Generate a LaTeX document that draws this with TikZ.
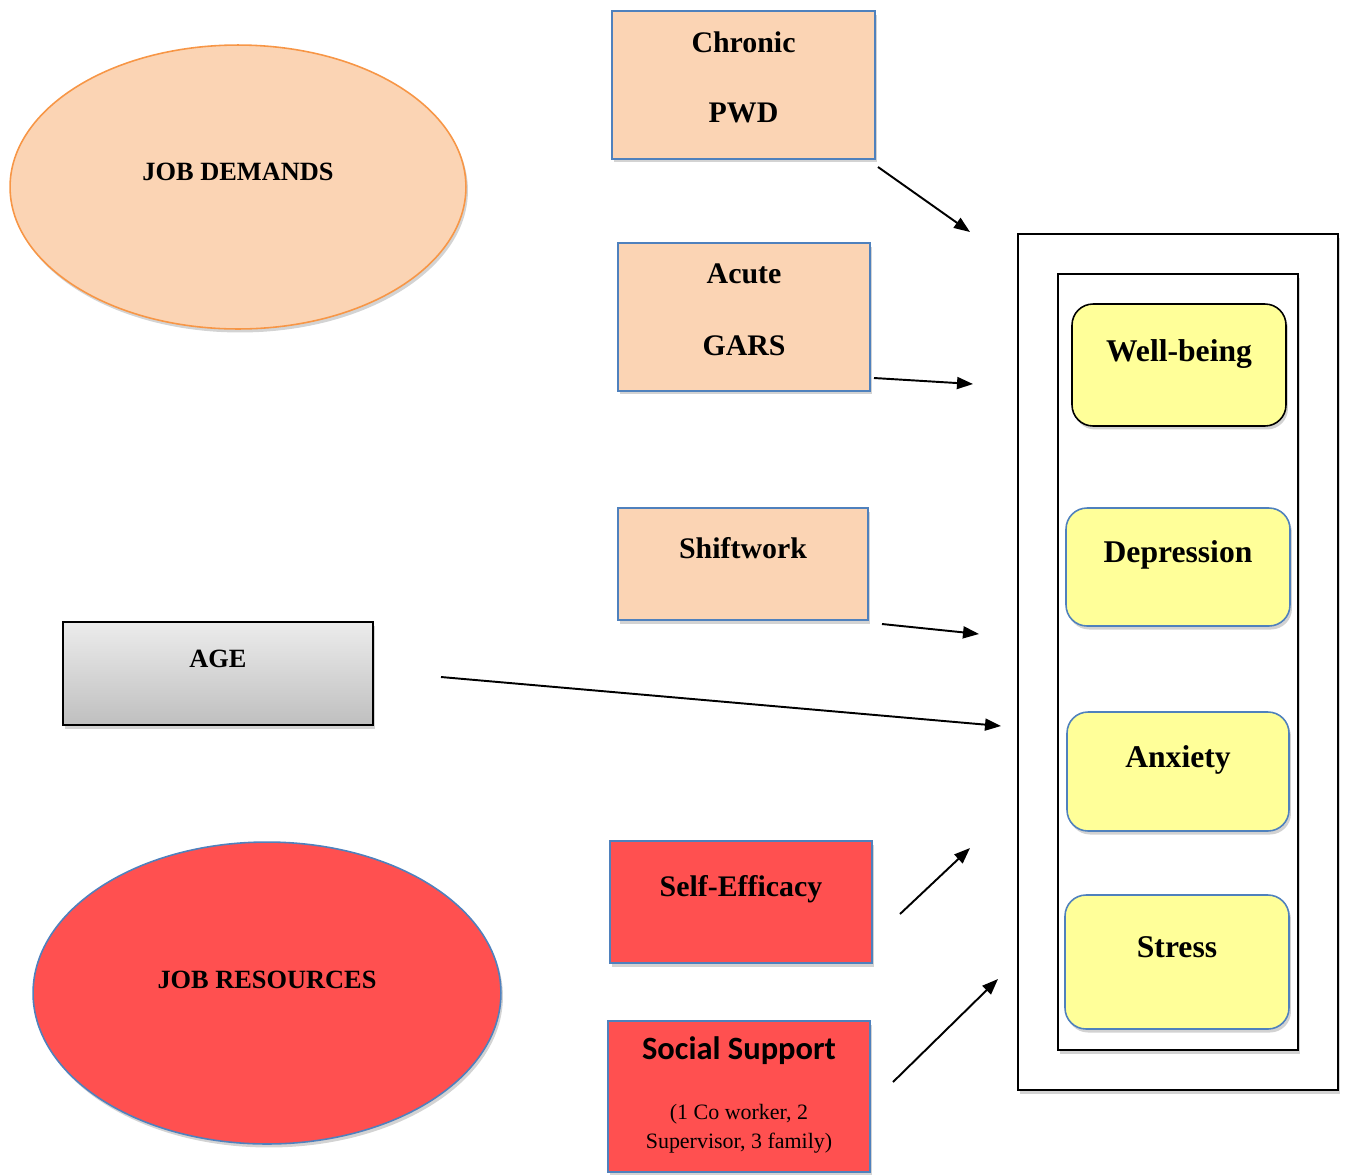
\documentclass[tikz,border=0pt]{standalone}
\usepackage{fontspec}
\setmainfont{Liberation Serif}
\newfontfamily\calfont{Carlito}
\usetikzlibrary{arrows.meta}
\usetikzlibrary{shadows}
\usetikzlibrary{shapes.geometric}

\definecolor{peach}{HTML}{FBD4B4}
\definecolor{orangeline}{HTML}{F79646}
\definecolor{blueline}{HTML}{4F81BD}
\definecolor{redfill}{HTML}{FF5050}
\definecolor{yellowfill}{HTML}{FFFF99}

\tikzset{
    shade/.style={drop shadow={opacity=0.35,shadow xshift=0.04cm,shadow yshift=-0.07cm}},
    demandbox/.style={rectangle,draw=blueline,fill=peach,line width=0.9pt,shade},
    resourcebox/.style={rectangle,draw=blueline,fill=redfill,line width=0.9pt,shade},
    outcomebox/.style={rectangle,rounded corners=0.42cm,draw=blueline,fill=yellowfill,line width=0.9pt,shade},
    title/.style={anchor=base,font=\fontsize{17}{20}\selectfont\bfseries},
    bigtitle/.style={anchor=base,font=\fontsize{18}{21}\selectfont\bfseries},
    ovaltitle/.style={anchor=base,font=\fontsize{15}{18}\selectfont\bfseries},
    effect/.style={-{Triangle[length=0.32cm,width=0.24cm]},line width=1.1pt}
}

\begin{document}
\begin{tikzpicture}[x=0.02cm,y=-0.02cm]
    \useasboundingbox (0,0) rectangle (1345,1174);

    % job demands
    \node[ellipse,draw=orangeline,fill=peach,line width=0.9pt,minimum width=9.12cm,minimum height=5.68cm,shade] (demands) at (238,187) {};
    \node[ovaltitle] (demandstext) at (238,180) {JOB DEMANDS};

    \node[demandbox,minimum width=5.26cm,minimum height=2.96cm] (chronic) at (743.5,85) {};
    \node[title] (chronictext) at (743.5,52) {Chronic};
    \node[title] (pwdtext) at (743.5,122) {PWD};

    \node[demandbox,minimum width=5.04cm,minimum height=2.96cm] (acute) at (744,317) {};
    \node[title] (acutetext) at (744,283) {Acute};
    \node[title] (garstext) at (744,355) {GARS};

    \node[demandbox,minimum width=5.0cm,minimum height=2.24cm] (shift) at (743,564) {};
    \node[title] (shifttext) at (743,558) {Shiftwork};

    % age
    \node[rectangle,draw=black,line width=0.9pt,top color=gray!15,bottom color=gray!50,minimum width=6.2cm,minimum height=2.06cm,shade] (age) at (218,673.5) {};
    \node[ovaltitle] (agetext) at (218,667) {AGE};

    % job resources
    \node[ellipse,draw=blueline,fill=redfill,line width=0.9pt,minimum width=9.36cm,minimum height=6.04cm,shade] (resources) at (267,993) {};
    \node[ovaltitle] (resourcestext) at (267,988) {JOB RESOURCES};

    \node[resourcebox,minimum width=5.24cm,minimum height=2.44cm] (efficacy) at (741,902) {};
    \node[title] (efficacytext) at (741,896) {Self-Efficacy};

    \node[resourcebox,minimum width=5.24cm,minimum height=3.02cm] (support) at (739,1096.5) {};
    \node[anchor=base,font=\calfont\fontsize{18.5}{22}\selectfont\bfseries] (supporttext) at (739,1059) {Social Support};
    \node[anchor=base,font=\fontsize{12.5}{15}\selectfont] (supportone) at (739,1119) {(1 Co worker, 2};
    \node[anchor=base,font=\fontsize{12.5}{15}\selectfont] (supporttwo) at (739,1148) {Supervisor, 3 family)};

    % outcomes
    \draw[line width=1pt,shade,fill=white] (1018,234) rectangle (1338,1090);
    \draw[line width=1pt,shade,fill=white] (1058,274) rectangle (1298,1050);

    \node[outcomebox,draw=black,minimum width=4.28cm,minimum height=2.44cm] (wellbeing) at (1179,365) {};
    \node[bigtitle] (wellbeingtext) at (1179,361) {Well-being};

    \node[outcomebox,minimum width=4.48cm,minimum height=2.36cm] (depression) at (1178,567) {};
    \node[bigtitle] (depressiontext) at (1178,562) {Depression};

    \node[outcomebox,minimum width=4.44cm,minimum height=2.38cm] (anxiety) at (1178,771.5) {};
    \node[bigtitle] (anxietytext) at (1178,767) {Anxiety};

    \node[outcomebox,minimum width=4.48cm,minimum height=2.68cm] (stress) at (1177,962) {};
    \node[bigtitle] (stresstext) at (1177,957) {Stress};

    % arrow ends
    \coordinate (a1) at (878,167);  \coordinate (b1) at (970,232);
    \coordinate (a2) at (874,378);  \coordinate (b2) at (973,384);
    \coordinate (a3) at (882,624);  \coordinate (b3) at (979,634);
    \coordinate (a4) at (441,677);  \coordinate (b4) at (1001,726);
    \coordinate (a5) at (900,914);  \coordinate (b5) at (970,848);
    \coordinate (a6) at (893,1082); \coordinate (b6) at (998,979);

    \foreach \i in {1,...,6}
        \draw[effect] (a\i) -- (b\i);
\end{tikzpicture}
\end{document}
